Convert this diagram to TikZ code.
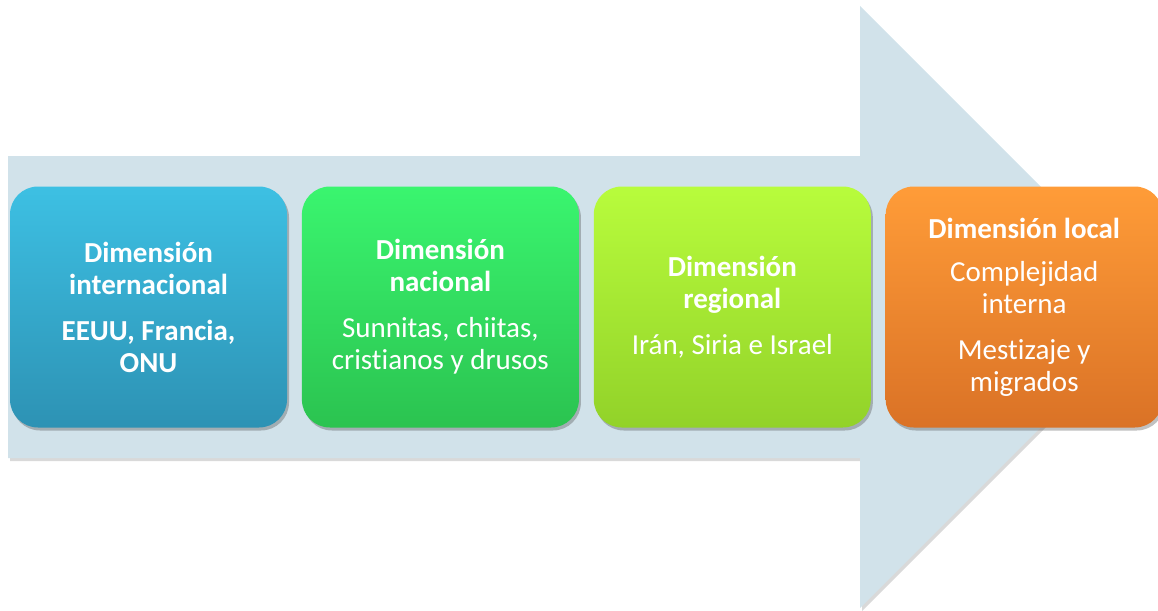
\documentclass[tikz,border=0pt]{standalone}
\usepackage{fontspec}
\setmainfont{Carlito}[Ligatures=NoCommon]
\usetikzlibrary{positioning,shadows}
\definecolor{arrowfill}{HTML}{D1E2EA}
\definecolor{intltop}{HTML}{3DC0E3}
\definecolor{intlbot}{HTML}{2D92B4}
\definecolor{naciotop}{HTML}{3AF56F}
\definecolor{naciobot}{HTML}{2BC350}
\definecolor{regiotop}{HTML}{B8FC3C}
\definecolor{regiobot}{HTML}{92D229}
\definecolor{localtop}{HTML}{FF9C38}
\definecolor{localbot}{HTML}{DA7226}

\begin{document}
\begin{tikzpicture}[x=1pt,y=-1pt,node distance=14.5pt,
    dimbox/.style={rounded corners=28pt, minimum width=277pt, minimum height=241pt,
        inner sep=0pt, align=center, text=white, font=\fontsize{29}{32}\selectfont,
        drop shadow={shadow xshift=2pt,shadow yshift=-3pt,opacity=0.35,fill=black!70}}]
    \useasboundingbox (0,0) rectangle (1158,610);
    % flecha de fondo
    \fill[arrowfill, drop shadow={shadow xshift=2pt,shadow yshift=-3pt,opacity=0.25,fill=black!60}]
        (8,156) -- (860,156) -- (860,6) -- (1161,307) -- (860,608) -- (860,458) -- (8,458) -- cycle;
    % las cuatro dimensiones
    \node[dimbox, top color=intltop, bottom color=intlbot] (intl) at (148.5,307)
        {\textbf{Dimensión}\\\textbf{internacional}\\[14pt]\textbf{EEUU, Francia,}\\\textbf{ONU}};
    \node[dimbox, top color=naciotop, bottom color=naciobot, right=of intl] (nacio)
        {\textbf{Dimensión}\\\textbf{nacional}\\[14pt]Sunnitas, chiitas,\\cristianos y drusos};
    \node[dimbox, top color=regiotop, bottom color=regiobot, right=of nacio] (regio)
        {\textbf{Dimensión}\\\textbf{regional}\\[14pt]Irán, Siria e Israel};
    \node[dimbox, top color=localtop, bottom color=localbot, right=of regio] (local)
        {\textbf{Dimensión local}\\[11pt]Complejidad\\interna\\[14pt]Mestizaje y\\migrados};
\end{tikzpicture}
\end{document}
